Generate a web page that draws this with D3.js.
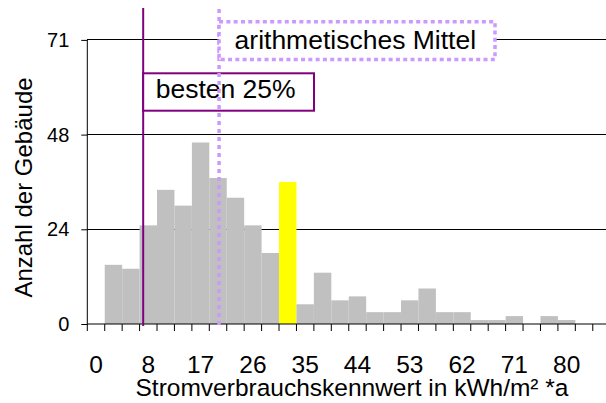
<!DOCTYPE html>
<html>
<head>
<meta charset="utf-8">
<script src="https://cdn.jsdelivr.net/npm/d3@7"></script>
<style>
  html, body { margin: 0; padding: 0; background: #fff; }
  svg { display: block; font-family: "Liberation Sans", Arial, sans-serif; }
</style>
</head>
<body>
<svg id="chart" width="606" height="403"></svg>
<script>
// ---- data ----
const categories = [0, 2, 5, 8, 11, 14, 17, 20, 23, 26, 29, 32, 35, 38, 41, 44, 47, 50, 53, 56, 59, 62, 65, 68, 71, 74, 77, 80, 83, 86];
const counts     = [0, 15, 14, 25, 34, 30, 46, 37, 32, 25, 18, 36, 5, 13, 6, 7, 3, 3, 6, 9, 3, 3, 1, 1, 2, 0, 2, 1, 0, 0];
const highlightCategory = 32;          // yellow bar
const yTickValues = [0, 24, 48, 72];
const yTickLabels = ["0", "24", "48", "71"];
const xTickLabels = ["0", "8", "17", "26", "35", "44", "53", "62", "71", "80"];
const xTickEvery = 3;
const binStep = 80 / 27;               // kWh per bin
const best25Value = 9.5;               // kWh
const meanValue = 22.4;                // kWh
const labelMean = "arithmetisches Mittel";
const labelBest = "besten 25%";
const xTitle = "Stromverbrauchskennwert in kWh/m² *a";
const yTitle = "Anzahl der Gebäude";

// ---- layout ----
const svg = d3.select("#chart");
const FONT = '"Liberation Sans", Arial, sans-serif';
const x0 = 87.3, bandW = 17.43;
const x1 = x0 + bandW * categories.length;
const yBase = 324, yTop = 39.9;

const x = d3.scaleBand().domain(categories).range([x0, x1]).padding(0);
const xv = d3.scaleLinear().domain([0, binStep * categories.length]).range([x0, x1]);
const y = d3.scaleLinear().domain([0, 72]).range([yBase, yTop]);

// gridlines
svg.append("g").selectAll("line").data(yTickValues.slice(1)).join("line")
  .attr("x1", x0).attr("x2", 606)
  .attr("y1", d => y(d)).attr("y2", d => y(d))
  .attr("stroke", "#000").attr("stroke-width", 1).attr("shape-rendering", "crispEdges");

// bars
svg.append("g").selectAll("rect").data(categories.map((c, i) => ({c, v: counts[i]}))).join("rect")
  .attr("x", d => x(d.c)).attr("width", x.bandwidth())
  .attr("y", d => y(d.v)).attr("height", d => yBase - y(d.v))
  .attr("fill", d => d.c === highlightCategory ? "#ffff00" : "#c0c0c0");

// y axis
const yAxis = d3.axisLeft(y).tickValues(yTickValues).tickSize(6).tickPadding(12)
  .tickFormat((d, i) => yTickLabels[i]);
const gy = svg.append("g").attr("transform", `translate(${x0},0)`).call(yAxis);
gy.select(".domain").attr("stroke", "#000").attr("d", `M0,${yTop}V${yBase}`);
gy.selectAll(".tick line").attr("stroke", "#000");
gy.selectAll(".tick text").attr("font-size", "20px").attr("fill", "#000").attr("font-family", FONT);

// x axis
const shown = categories.filter((d, i) => i % xTickEvery === 0);
const xAxis = d3.axisBottom(x).tickValues(shown).tickSize(0).tickPadding(0)
  .tickFormat((d, i) => xTickLabels[i]);
const gx = svg.append("g").attr("transform", `translate(0,${yBase})`).call(xAxis);
gx.select(".domain").attr("stroke", "#000").attr("d", `M${x0},0H606`);
gx.selectAll(".tick text").attr("font-size", "24.5px").attr("fill", "#000")
  .attr("font-family", FONT).attr("y", 48.5).attr("dy", 0);
// tick marks at band boundaries
svg.append("g").selectAll("line").data(d3.range(categories.length + 1)).join("line")
  .attr("x1", i => x0 + i * x.step()).attr("x2", i => x0 + i * x.step())
  .attr("y1", yBase).attr("y2", yBase + 7)
  .attr("stroke", "#000").attr("stroke-width", 1);

// axis titles
svg.append("text").attr("x", (137.3 + 566.7) / 2).attr("y", 395.5)
  .attr("text-anchor", "middle").attr("font-size", "24.5px").text(xTitle);
svg.append("text").attr("transform", "translate(32,187.5) rotate(-90)")
  .attr("text-anchor", "middle").attr("font-size", "24px").text(yTitle);

// best 25% line and label
const xb = xv(best25Value);
svg.append("line").attr("x1", xb).attr("x2", xb).attr("y1", 8).attr("y2", 326)
  .attr("stroke", "#800080").attr("stroke-width", 2);
svg.append("rect").attr("x", xb).attr("y", 73.3).attr("width", 314 - xb).attr("height", 37.4)
  .attr("fill", "#fff").attr("stroke", "#800080").attr("stroke-width", 2);
svg.append("text").attr("x", xb + 12.5).attr("y", 98).attr("font-size", "26.5px").text(labelBest);

// mean line and label
const xm = xv(meanValue);
svg.append("line").attr("x1", xm).attr("x2", xm).attr("y1", 9).attr("y2", 326)
  .attr("stroke", "#cc99ff").attr("stroke-width", 3.5).attr("stroke-dasharray", "4 4");
svg.append("rect").attr("x", xm).attr("y", 21.7).attr("width", 495 - xm).attr("height", 37.8)
  .attr("fill", "#fff").attr("stroke", "#cc99ff").attr("stroke-width", 3.5).attr("stroke-dasharray", "4 3.3");
svg.append("text").attr("x", xm + 15.5).attr("y", 49).attr("font-size", "26.5px").text(labelMean);
</script>
</body>
</html>
